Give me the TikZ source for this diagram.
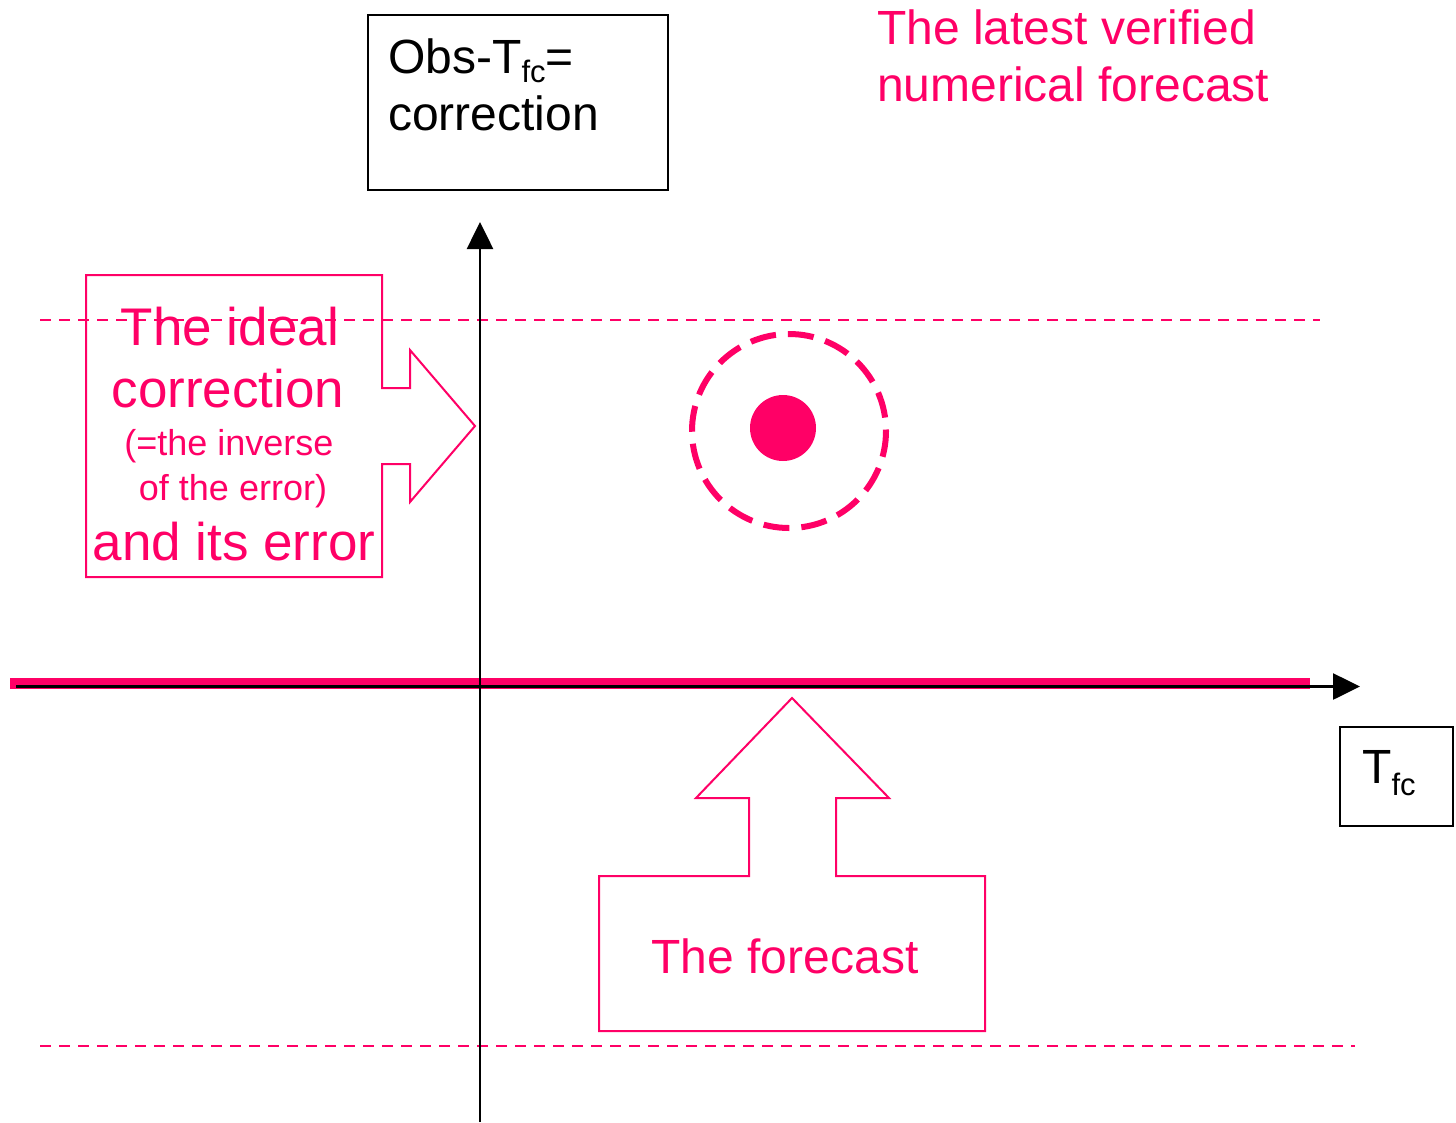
\documentclass[tikz,border=0pt]{standalone}
\usepackage{fontspec}
\setmainfont{Liberation Sans}
\usetikzlibrary{arrows.meta}
\definecolor{pk}{RGB}{255,0,102}
\newcommand{\bigtxt}{\fontsize{48}{57}\selectfont}
\newcommand{\idealtxt}{\fontsize{53}{60}\selectfont}
\newcommand{\smalltxt}{\fontsize{36}{42}\selectfont}
\newcommand{\subtxt}{\fontsize{31}{31}\selectfont}
\begin{document}
\begin{tikzpicture}[x=1pt,y=-1pt,
  pinkline/.style={draw=pk, line width=2pt, line join=miter},
  dashline/.style={draw=pk, line width=2pt, dash pattern=on 11pt off 8pt},
  axisline/.style={draw=black, line width=2.6pt, -{Triangle[length=27pt,width=26pt]}},
  blackbox/.style={draw=black, line width=2pt},
  lbl/.style={inner sep=0pt, anchor=base},
  lblw/.style={inner sep=0pt, anchor=base west}]
\useasboundingbox (0,0) rectangle (1456,1122);

% dashed guide lines
\coordinate (dtl) at (40,320);
\coordinate (dtr) at (1320,320);
\coordinate (dbl) at (40,1046);
\coordinate (dbr) at (1355,1046);
\draw[dashline] (dtl) -- (dtr);
\draw[dashline] (dbl) -- (dbr);

% thick pink forecast line
\coordinate (pl) at (10,683.5);
\coordinate (pr) at (1310,683.5);
\draw[draw=pk, line width=11pt] (pl) -- (pr);

% axes
\coordinate (xs) at (16,686.5);
\coordinate (xe) at (1360,686.5);
\coordinate (ys) at (480,1122);
\coordinate (ye) at (480,222);
\draw[axisline] (xs) -- (xe);
\draw[axisline] (ys) -- (ye);

% Obs box
\draw[blackbox] (368,15) rectangle (668,190);
\node[lblw] (obs1) at (388,73) {\bigtxt Obs-T\raisebox{-9pt}{\subtxt fc}=};
\node[lblw] (obs2) at (388,130) {\bigtxt correction};

% T_fc box
\draw[blackbox] (1340,727) rectangle (1453,826);
\node[lblw] (tfc) at (1362,783) {\bigtxt T\raisebox{-12pt}{\subtxt fc}};

% latest verified forecast text
\node[lblw, text=pk] (lv1) at (877,44) {\bigtxt The latest verified};
\node[lblw, text=pk] (lv2) at (877,101) {\bigtxt numerical forecast};

% the point with its error circle
\draw[draw=pk, line width=6pt, dash pattern=on 26pt off 12pt] (789,431) circle[radius=97];
\fill[pk] (783,428) circle[radius=33];

% ideal correction callout
\draw[pinkline] (86,275) -- (382,275) -- (382,388) -- (410,388) -- (410,350)
  -- (475,426) -- (410,502) -- (410,464) -- (382,464) -- (382,577) -- (86,577) -- cycle;
\node[lbl, text=pk] (ic1) at (230,345) {\idealtxt The ideal};
\node[lbl, text=pk] (ic2) at (228,407) {\idealtxt correction};
\node[lbl, text=pk] (ic3) at (229,455) {\smalltxt (=the inverse};
\node[lbl, text=pk] (ic4) at (233,500) {\smalltxt of the error)};
\node[lbl, text=pk] (ic5) at (234,560) {\idealtxt and its error};

% forecast callout
\draw[pinkline] (599,876) -- (749,876) -- (749,798) -- (696,798) -- (792,698)
  -- (889,798) -- (836,798) -- (836,876) -- (985,876) -- (985,1031) -- (599,1031) -- cycle;
\node[lbl, text=pk] (fc) at (785,973) {\bigtxt The forecast};
\end{tikzpicture}
\end{document}
